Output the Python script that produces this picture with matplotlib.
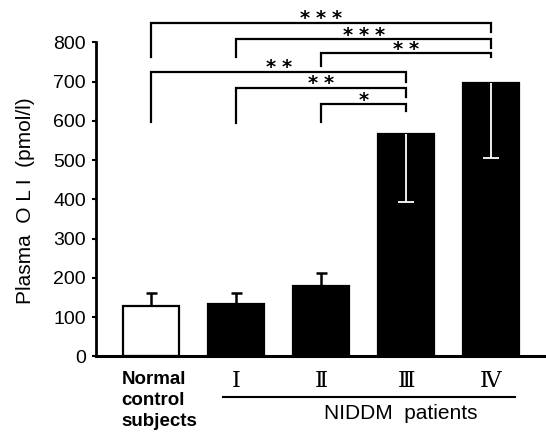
import matplotlib
matplotlib.use('Agg')
import matplotlib.pyplot as plt
from matplotlib.transforms import blended_transform_factory
from matplotlib.lines import Line2D

plt.rcParams['font.family'] = ['Liberation Sans', 'DejaVu Sans']

# data
groups = ['Normal\ncontrol\nsubjects', '\u2160', '\u2161', '\u2162', '\u2163']
means = [129, 134, 180, 566, 698]
err_up = [33, 29, 32, 0, 0]
err_down = [0, 0, 0, 172, 192]
bar_colors = ['white', 'black', 'black', 'black', 'black']

# significance brackets: (left group, right group)
bracket_pairs = [(0, 4), (1, 4), (2, 4), (0, 3), (1, 3), (2, 3)]
bracket_top = [850, 808, 772, 726, 685, 643]
bracket_left_end = [764, 762, 741, 598, 596, 598]
bracket_right_end = [826, 785, 764, 700, 662, 626]
bracket_stars = ['***', '***', '**', '**', '**', '*']


def main():
  fig = plt.figure(figsize=(5.46, 4.33), dpi=100)
  ax = fig.add_axes([0.175, 0.1767, 0.8251, 0.7977])
  x = list(range(len(means)))

  ax.bar(x, means, width=0.65, color=bar_colors, edgecolor='black',
         linewidth=1.6, zorder=2)
  # error bars: one-sided, black going up, white going down inside the bar
  for xi, m, up, dn in zip(x, means, err_up, err_down):
    if up > 0:
      ax.vlines(xi, m, m + up, color='black', lw=1.8, zorder=3)
      ax.hlines(m + up, xi - 0.065, xi + 0.065, color='black', lw=1.8, zorder=3)
    if dn > 0:
      ax.vlines(xi, m - dn, m, color='white', lw=1.3, zorder=3)
      ax.hlines(m - dn, xi - 0.09, xi + 0.09, color='white', lw=1.3, zorder=3)

  for (a, b), top, le, re, s in zip(bracket_pairs, bracket_top,
                                    bracket_left_end, bracket_right_end,
                                    bracket_stars):
    ax.plot([a, a, b, b], [le, top, top, re], color='black', lw=1.6,
            solid_joinstyle='miter', clip_on=False, zorder=4)
    # stars placed one by one so the gaps match the original
    n = len(s)
    for k in range(n):
      ax.text((a + b) / 2.0 + (k - (n - 1) / 2.0) * 0.19, top - 4, '*',
              ha='center', va='baseline', fontsize=14, family='DejaVu Sans',
              fontweight='bold')

  ax.set_xlim(-0.653, 4.647)
  ax.set_ylim(0, 880)
  ax.set_yticks(range(0, 801, 100))
  ax.tick_params(axis='y', direction='out', length=3, width=1.5, pad=4,
                 labelsize=14)
  ax.set_xticks([])
  ax.spines['top'].set_visible(False)
  ax.spines['right'].set_visible(False)
  ax.spines['left'].set_bounds(0, 800)
  ax.spines['left'].set_linewidth(2)
  ax.spines['bottom'].set_linewidth(2.2)

  ax.set_ylabel('Plasma  O L I  (pmol/l)', fontsize=15)
  ax.yaxis.set_label_coords(-0.135, 0.45)

  tr = blended_transform_factory(ax.transData, ax.transAxes)
  ax.text(-0.345, -0.043, groups[0], transform=tr, ha='left', va='top',
          fontsize=13.5, fontweight='bold', linespacing=1.3)
  for i in range(1, 5):
    ax.text(x[i], -0.040, groups[i], transform=tr, ha='center', va='top',
            fontsize=16, family=['DejaVu Serif', 'DejaVu Sans'])
  ax.add_line(Line2D([0.85, 4.28], [-0.116, -0.116], transform=tr,
                     color='black', lw=1.5, clip_on=False))
  ax.text(2.94, -0.138, 'NIDDM  patients', transform=tr, ha='center',
          va='top', fontsize=15)

  fig.savefig('out.png', dpi=100)


if __name__ == "__main__":
  main()
